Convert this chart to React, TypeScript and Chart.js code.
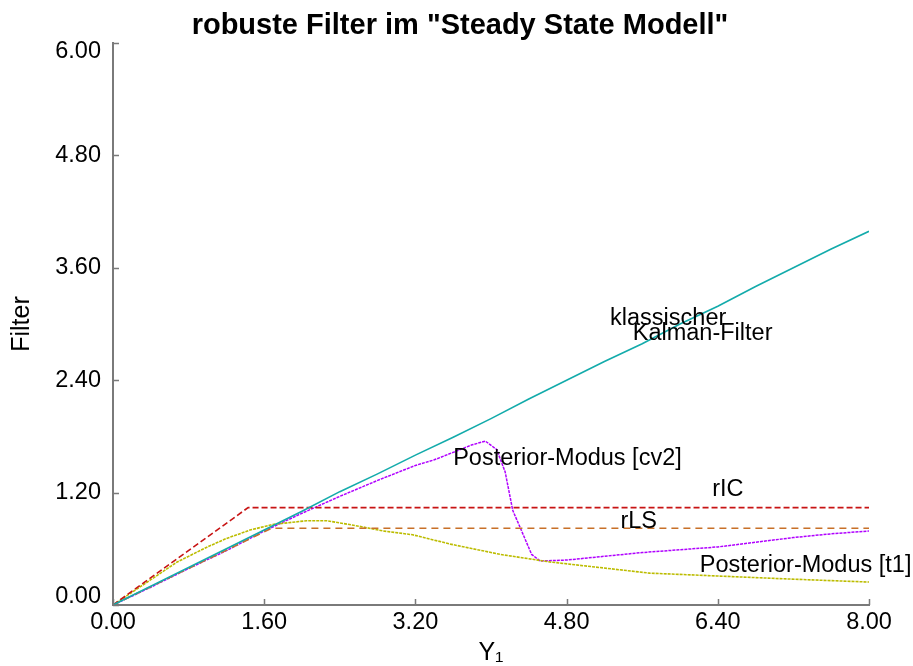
import React, { useEffect, useRef } from "react";
import { Chart, registerables } from "chart.js";

Chart.register(...registerables);

// ---- data ----
const kalmanX = [0, 0.4, 0.8, 1.2, 1.6, 2.0, 2.4, 2.8, 3.2, 3.6, 4.0, 4.4, 4.8, 5.2, 5.6, 6.0, 6.4, 6.8, 7.2, 7.6, 8.0];
const kalmanY = [0, 0.2, 0.4, 0.6, 0.8, 1.0, 1.21, 1.4, 1.6, 1.79, 1.99, 2.2, 2.4, 2.6, 2.79, 3.0, 3.19, 3.4, 3.6, 3.8, 3.99];

const cv2X = [0, 0.4, 0.8, 1.2, 1.6, 2.0, 2.4, 2.8, 3.2, 3.4, 3.6, 3.8, 3.94, 4.06, 4.15, 4.23, 4.32, 4.43, 4.52, 4.8, 5.2, 5.6, 6.0, 6.4, 6.8, 7.2, 7.6, 8.0];
const cv2Y = [0, 0.19, 0.39, 0.58, 0.79, 0.98, 1.16, 1.33, 1.49, 1.55, 1.63, 1.71, 1.75, 1.66, 1.42, 1.01, 0.8, 0.54, 0.47, 0.48, 0.52, 0.56, 0.59, 0.62, 0.67, 0.72, 0.76, 0.79];

const t1X = [0, 0.4, 0.68, 1.0, 1.2, 1.45, 1.69, 2.05, 2.26, 2.61, 2.86, 3.17, 3.57, 4.1, 4.62, 5.15, 5.68, 6.39, 7.09, 7.6, 8.0];
const t1Y = [0, 0.27, 0.46, 0.62, 0.71, 0.8, 0.86, 0.9, 0.9, 0.84, 0.79, 0.75, 0.65, 0.54, 0.46, 0.4, 0.34, 0.31, 0.28, 0.26, 0.245];

const ricX = [0, 1.43, 8.0];
const ricY = [0, 1.04, 1.04];

const rlsX = [0, 1.68, 8.0];
const rlsY = [0, 0.82, 0.82];

const xTicks = [0, 1.6, 3.2, 4.8, 6.4, 8.0];
const yTicks = [0, 1.2, 2.4, 3.6, 4.8, 6.0];

const labelTexts = ["klassischer", "Kalman-Filter", "Posterior-Modus [cv2]", "rIC", "rLS", "Posterior-Modus [t1]"];
const labelX = [5.26, 5.5, 3.6, 6.34, 5.37, 6.21];
const labelY = [3.06, 2.9, 1.56, 1.23, 0.89, 0.42];

const FONT = "'Liberation Sans', Arial, sans-serif";

const zip = (xs: number[], ys: number[]) => xs.map((x, i) => ({ x, y: ys[i] }));

const innerTicks = {
  id: "innerTicks",
  afterDraw(chart: any) {
    const { ctx, scales } = chart;
    const xs = scales.x;
    const ys = scales.y;
    ctx.save();
    ctx.strokeStyle = "#7a7a7a";
    ctx.lineWidth = 1.5;
    ctx.beginPath();
    xTicks.forEach((v) => {
      const px = Math.round(xs.getPixelForValue(v)) + 0.5;
      ctx.moveTo(px, ys.bottom);
      ctx.lineTo(px, ys.bottom - 6);
    });
    yTicks.forEach((v) => {
      const py = Math.round(ys.getPixelForValue(v)) + 0.5;
      ctx.moveTo(xs.left, py);
      ctx.lineTo(xs.left + 6, py);
    });
    ctx.stroke();
    ctx.restore();
  },
};

const textLabels = {
  id: "textLabels",
  afterDatasetsDraw(chart: any) {
    const { ctx, scales } = chart;
    ctx.save();
    ctx.fillStyle = "#000";
    ctx.font = `23.5px ${FONT}`;
    ctx.textAlign = "left";
    ctx.textBaseline = "middle";
    labelTexts.forEach((t, i) => {
      ctx.fillText(t, scales.x.getPixelForValue(labelX[i]), scales.y.getPixelForValue(labelY[i]));
    });
    ctx.restore();
  },
};

export default function App() {
  const ref = useRef<HTMLCanvasElement | null>(null);

  useEffect(() => {
    if (!ref.current) return;
    const yMin = yTicks[0];
    const yMax = yTicks[yTicks.length - 1];
    const chart = new Chart(ref.current, {
      type: "line",
      data: {
        datasets: [
          {
            label: "klassischer Kalman-Filter",
            data: zip(kalmanX, kalmanY),
            borderColor: "#13abab",
            borderWidth: 1.6,
            pointRadius: 0,
            tension: 0,
          },
          {
            label: "rIC",
            data: zip(ricX, ricY),
            borderColor: "#c81414",
            borderWidth: 1.6,
            borderDash: [6, 3],
            pointRadius: 0,
          },
          {
            label: "rLS",
            data: zip(rlsX, rlsY),
            borderColor: "#c87028",
            borderWidth: 1.6,
            borderDash: [7, 5],
            pointRadius: 0,
          },
          {
            label: "Posterior-Modus [t1]",
            data: zip(t1X, t1Y),
            borderColor: "#bcbc00",
            borderWidth: 1.6,
            borderDash: [3, 1],
            pointRadius: 0,
          },
          {
            label: "Posterior-Modus [cv2]",
            data: zip(cv2X, cv2Y),
            borderColor: "#b000ff",
            borderWidth: 1.5,
            borderDash: [3, 1],
            pointRadius: 0,
          },
        ],
      },
      options: {
        animation: false,
        responsive: false,
        maintainAspectRatio: false,
        layout: { padding: { left: 7, right: 0, top: 0, bottom: 0 } },
        plugins: {
          legend: { display: false },
          tooltip: { enabled: false },
          title: {
            display: true,
            text: 'robuste Filter im "Steady State Modell"',
            color: "#000",
            font: { family: FONT, size: 29, weight: "bold", lineHeight: 1.15 },
            padding: { top: 9.5, bottom: 0.15 },
          },
        },
        scales: {
          x: {
            type: "linear",
            min: 0,
            max: 8,
            afterFit: (s: any) => {
              s.height = 61;
              s.paddingRight = 44;
            },
            afterBuildTicks: (s: any) => {
              s.ticks = xTicks.map((v) => ({ value: v }));
            },
            ticks: {
              color: "#000",
              font: { family: FONT, size: 23.5 },
              padding: 3,
              maxRotation: 0,
              autoSkip: false,
              callback: (v: any) => Number(v).toFixed(2),
            },
            grid: { display: true, drawOnChartArea: false, drawTicks: false },
            border: { display: true, color: "#7a7a7a", width: 2 },
            title: {
              display: true,
              text: "Y₁",
              color: "#000",
              font: { family: FONT, size: 25, lineHeight: 1 },
              padding: { top: 0, bottom: 0 },
            },
          },
          y: {
            type: "linear",
            min: yMin,
            max: yMax,
            afterFit: (s: any) => {
              s.width = 106;
            },
            afterBuildTicks: (s: any) => {
              s.ticks = yTicks.map((v) => ({ value: v }));
            },
            ticks: {
              color: "#000",
              font: { family: FONT, size: 23.5, lineHeight: 0.7 },
              padding: 12,
              autoSkip: false,
              callback: (v: any) => {
                const t = Number(v).toFixed(2);
                if (Number(v) === yMax) return ["", t];
                if (Number(v) === yMin) return [t, ""];
                return t;
              },
            },
            grid: { display: true, drawOnChartArea: false, drawTicks: false },
            border: { display: true, color: "#7a7a7a", width: 2 },
            title: {
              display: true,
              text: "Filter",
              color: "#000",
              font: { family: FONT, size: 25, lineHeight: 1.2 },
              padding: { top: 0, bottom: 0 },
            },
          },
        },
      },
      plugins: [innerTicks, textLabels],
    });
    return () => chart.destroy();
  }, []);

  return (
    <div style={{ position: "fixed", left: 0, top: 0, width: 913, height: 666, background: "#fff" }}>
      <canvas ref={ref} width={913} height={666} style={{ width: 913, height: 666 }} />
    </div>
  );
}
